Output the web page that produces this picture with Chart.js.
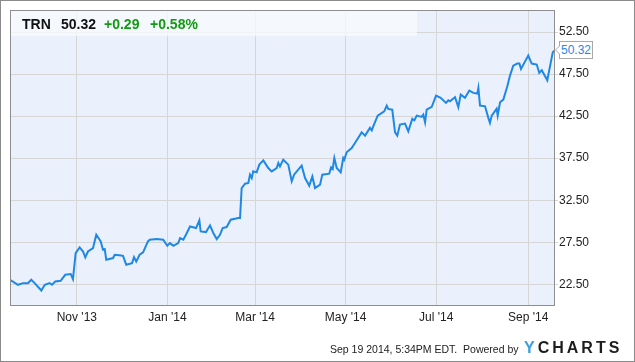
<!DOCTYPE html>
<html>
<head>
<meta charset="utf-8">
<script src="https://cdn.jsdelivr.net/npm/chart.js@4"></script>
<style>
  html, body { margin: 0; padding: 0; background: #fff; }
  #wrap { position: relative; width: 635px; height: 362px; overflow: hidden; font-family: 'Liberation Sans', Arial, sans-serif; }
  canvas { position: absolute; left: 0; top: 0; }
  #hdr { position: absolute; left: 11px; top: 11px; width: 406px; height: 25px; background: rgba(250,252,255,0.72); }
  .hv { position: absolute; top: 11px; font-weight: bold; font-size: 14px; line-height: 26px; height: 26px; }
  #callout { position: absolute; left: 559px; width: 32px; height: 16px; border: 1px solid #a9a9a9; background: #fff; color: #1f88e5; font-size: 12px; line-height: 16px; text-align: center; }
  #callout:before { content: ""; position: absolute; left: -5px; top: 3px; border-top: 5px solid transparent; border-bottom: 5px solid transparent; border-right: 5px solid #a9a9a9; }
  #callout:after { content: ""; position: absolute; left: -4px; top: 4px; border-top: 4px solid transparent; border-bottom: 4px solid transparent; border-right: 4px solid #fff; }
  #foot { position: absolute; left: 330px; top: 342px; font-size: 10.5px; color: #222; line-height: 14px; white-space: nowrap; }
  #logo { position: absolute; left: 524px; top: 339px; font-size: 16px; font-weight: bold; letter-spacing: 3px; color: #1d1d1d; line-height: 18px; white-space: nowrap; }
  #logo span { color: #3a9fdf; }
</style>
</head>
<body>
<div id="wrap">
  <canvas id="c" width="635" height="362"></canvas>
  <div id="hdr"></div>
  <div class="hv" style="left:22px;color:#111">TRN</div>
  <div class="hv" style="left:61px;color:#111">50.32</div>
  <div class="hv" style="left:104px;color:#139a13">+0.29</div>
  <div class="hv" style="left:150px;color:#139a13">+0.58%</div>
  <div id="callout">50.32</div>
  <div id="foot">Sep 19 2014, 5:34PM EDT.&nbsp; Powered by</div>
  <div id="logo"><span>Y</span>CHARTS</div>
</div>
<script>
// Days since Sep 17 2013
const days = [0,5.4,8.8,12.1,14.3,16.6,21.1,23.4,26.7,28.3,30.5,34.1,37.2,40.9,42.4,44.2,46.9,49.2,50.7,52.5,
  55.9,58.1,61.1,62.6,63.8,64.8,69.4,70.5,74.9,76.1,78.3,82.2,83.5,85.0,87.3,89.6,92.9,94.1,98.8,103.2,
  105.9,107.7,110.0,113.3,114.5,116.7,118.5,121.2,125.3,127.5,128.4,132.0,132.9,134.7,136.9,139.2,141.4,143.2,145.9,148.6,
  153.7,154.9,156.0,158.3,160.5,161.6,162.8,163.8,166.1,167.9,170.6,173.9,176.2,179.6,180.7,181.8,184.0,187.4,189.7,191.3,
  194.1,196.4,198.7,201.5,203.6,205.4,208.8,210.3,215.0,216.2,217.3,218.4,220.0,222.7,224.4,225.1,226.7,230.1,232.3,236.8,
  239.1,242.4,243.6,244.6,247.6,252.0,253.7,254.7,257.4,259.3,260.8,262.6,266.0,268.2,270.9,272.3,273.9,277.2,278.3,279.5,
  280.6,284.0,286.9,290.0,293.6,295.2,296.3,299.7,301.9,303.5,306.4,309.3,312.0,314.7,315.4,316.5,319.9,322.1,323.2,324.4,
  327.7,328.4,330.0,332.2,334.9,336.7,338.9,341.6,343.0,344.1,349.0,351.3,354.7,356.4,358.1,361.8,364.1,365.5,367];
const prices = [23.04,22.44,22.64,22.64,23.04,22.64,21.76,22.44,22.64,22.44,22.83,22.92,23.63,23.71,23.12,26.21,26.88,26.40,25.69,26.40,
  26.81,28.39,27.60,26.61,26.69,25.42,25.62,26.01,25.93,25.89,24.82,25.02,25.74,25.21,26.01,26.29,27.60,27.80,27.88,27.80,
  27.08,27.40,27.08,27.40,28.00,27.80,28.39,29.38,29.19,30.10,28.79,28.71,28.99,29.50,28.60,27.88,28.39,29.19,29.31,30.18,
  30.38,30.38,33.95,34.46,34.55,35.54,35.14,35.93,35.81,36.73,37.24,36.33,35.93,36.33,36.93,36.52,37.32,36.73,34.74,35.54,
  36.13,36.61,35.14,34.23,35.33,33.95,34.35,35.54,35.66,36.41,36.21,37.52,36.33,35.81,37.52,37.32,38.19,38.71,39.31,40.57,
  40.18,41.10,40.81,41.29,42.56,43.07,43.75,43.36,43.27,40.57,40.18,41.49,41.61,40.69,42.17,42.00,42.56,42.41,42.68,41.76,
  43.27,43.60,44.94,44.67,44.07,44.38,44.26,44.74,43.55,45.06,44.67,45.54,45.26,45.18,45.86,43.75,43.67,42.29,41.69,42.56,
  43.39,42.56,44.14,44.46,46.05,47.32,48.51,48.75,48.75,48.12,49.70,48.75,48.63,47.64,47.95,46.76,48.83,50.10,50.32];
const xTickDays = [45, 106, 165, 226, 287, 349];
const xTickLabels = ["Nov '13", "Jan '14", "Mar '14", "May '14", "Jul '14", "Sep '14"];
const yTicks = [22.5, 27.5, 32.5, 37.5, 42.5, 47.5, 52.5];

Chart.defaults.font.family = "'Liberation Sans', Arial, sans-serif";
Chart.defaults.font.size = 12;
Chart.defaults.color = '#222';

const frame = {
  id: 'frame',
  beforeDraw(chart) {
    const {ctx, chartArea: a} = chart;
    ctx.save();
    ctx.fillStyle = '#eaf1fc';
    ctx.fillRect(a.left, a.top, a.right - a.left, a.bottom - a.top);
    ctx.restore();
  },
  afterDraw(chart) {
    const {ctx, chartArea: a} = chart;
    ctx.save();
    ctx.strokeStyle = '#8e8e8e';
    ctx.lineWidth = 1;
    ctx.strokeRect(Math.round(a.left) + 0.5, Math.round(a.top) + 0.5, Math.round(a.right - a.left) - 1, Math.round(a.bottom - a.top) - 1);
    ctx.strokeStyle = '#8a8a8a';
    ctx.strokeRect(0.5, 0.5, chart.width - 1, chart.height - 1);
    ctx.restore();
    const ys = chart.scales.y;
    const py = ys.getPixelForValue(prices[prices.length - 1]);
    const c = document.getElementById('callout');
    c.style.top = Math.round(py - 9) + 'px';
    c.textContent = prices[prices.length - 1].toFixed(2);
  }
};

new Chart(document.getElementById('c'), {
  type: 'line',
  data: {
    datasets: [{
      data: days.map((d, i) => ({x: d, y: prices[i]})),
      borderColor: '#1f88e5',
      borderWidth: 2,
      pointRadius: 0,
      tension: 0,
      fill: false
    }]
  },
  options: {
    responsive: false,
    animation: false,
    devicePixelRatio: 1,
    layout: {padding: {left: 10, top: 10, right: 0, bottom: 0}},
    plugins: {legend: {display: false}, tooltip: {enabled: false}},
    scales: {
      x: {
        type: 'linear',
        min: 0,
        max: 367,
        afterBuildTicks: (s) => { s.ticks = xTickDays.map(v => ({value: v})); },
        afterFit: (s) => { s.height = 56; },
        ticks: {
          autoSkip: false,
          maxRotation: 0,
          padding: 4,
          color: '#222',
          callback: (v) => { const i = xTickDays.indexOf(v); return i >= 0 ? xTickLabels[i] : ''; }
        },
        grid: {color: '#d6d6d6', drawTicks: false, lineWidth: 1},
        border: {display: false}
      },
      y: {
        position: 'right',
        min: 19.92,
        max: 55.12,
        afterBuildTicks: (s) => { s.ticks = yTicks.map(v => ({value: v})); },
        afterFit: (s) => { s.width = 80; },
        ticks: {
          padding: 1,
          color: '#222',
          callback: (v) => Number(v).toFixed(2)
        },
        grid: {color: '#d6d6d6', tickLength: 3, lineWidth: 1},
        border: {display: false}
      }
    }
  },
  plugins: [frame]
});
</script>
</body>
</html>
